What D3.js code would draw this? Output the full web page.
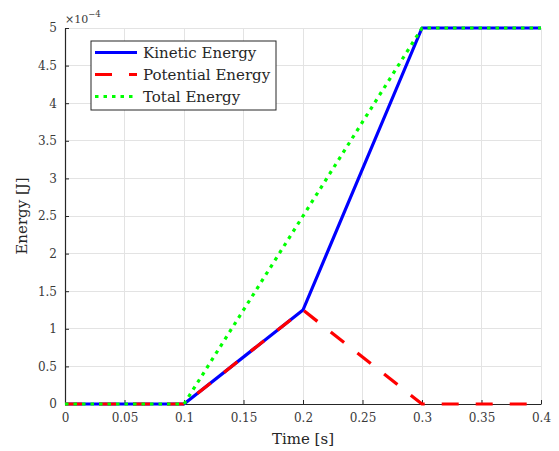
<!DOCTYPE html>
<html>
<head>
<meta charset="utf-8">
<script src="https://cdn.jsdelivr.net/npm/d3@7"></script>
<style>
  body { margin: 0; background: #fff; }
  svg { display: block; }
  svg text { font-family: "DejaVu Serif", "Liberation Serif", serif; }
</style>
</head>
<body>
<svg id="chart" width="559" height="451"></svg>
<script>
// Energy of the body over time (values in units of 1e-4 J)
const time = [0, 0.1, 0.2, 0.3, 0.4];
const kinetic = [0, 0, 1.25, 5, 5];
const potential = [0, 0, 1.25, 0, 0];
const total = [0, 0, 2.5, 5, 5];

const xTicks = [0, 0.05, 0.1, 0.15, 0.2, 0.25, 0.3, 0.35, 0.4];
const yTicks = [0, 0.5, 1, 1.5, 2, 2.5, 3, 3.5, 4, 4.5, 5];

const series = [
  { name: "Kinetic Energy", values: kinetic, color: "#0000ff", dash: null },
  { name: "Potential Energy", values: potential, color: "#ff0000", dash: "17,17" },
  { name: "Total Energy", values: total, color: "#00ff00", dash: "3.5,5" }
];

const svg = d3.select("#chart");
const m = { left: 65, right: 18, top: 28, bottom: 47 };
const W = 559, H = 451;

const x = d3.scaleLinear().domain([0, 0.4]).range([m.left, W - m.right]);
const y = d3.scaleLinear().domain([0, 5]).range([H - m.bottom, m.top]);

// grid
const grid = svg.append("g");
grid.selectAll(".gx").data(xTicks).join("line")
  .attr("x1", d => x(d)).attr("x2", d => x(d))
  .attr("y1", y(0)).attr("y2", y(5))
  .attr("stroke", "#e3e3e3").attr("stroke-width", 1).attr("shape-rendering", "crispEdges");
grid.selectAll(".gy").data(yTicks).join("line")
  .attr("x1", x(0)).attr("x2", x(0.4))
  .attr("y1", d => y(d)).attr("y2", d => y(d))
  .attr("stroke", "#e3e3e3").attr("stroke-width", 1).attr("shape-rendering", "crispEdges");

// axes
const axColor = "#262626";
const xAxis = svg.append("g").attr("transform", `translate(0,${y(0)})`)
  .call(d3.axisBottom(x).tickValues(xTicks).tickSizeInner(-4).tickSizeOuter(0).tickPadding(9)
    .tickFormat(d => d3.format("")(+d.toFixed(2))));
const yAxis = svg.append("g").attr("transform", `translate(${x(0)},0)`)
  .call(d3.axisLeft(y).tickValues(yTicks).tickSizeInner(-4).tickSizeOuter(0).tickPadding(8)
    .tickFormat(d => d3.format("")(d)));
[xAxis, yAxis].forEach(a => {
  a.attr("font-family", null).attr("font-size", null);
  a.select(".domain").attr("stroke", axColor).attr("stroke-width", 1.2);
  a.selectAll(".tick line").attr("stroke", axColor);
  a.selectAll(".tick text").attr("fill", "#3a3a3a").style("font-size", "12px");
});

// exponent label
const expo = svg.append("text").attr("x", 65).attr("y", 22.5).attr("fill", "#3a3a3a")
  .style("font-size", "11px");
expo.append("tspan").text("×10");
expo.append("tspan").attr("dy", -6).style("font-size", "8.5px").text("−4");

// axis titles
svg.append("text").attr("x", (x(0) + x(0.4)) / 2).attr("y", 443.5)
  .attr("text-anchor", "middle").style("font-size", "15px").attr("fill", axColor).text("Time [s]");
svg.append("text").attr("transform", `translate(27,${(y(0) + y(5)) / 2}) rotate(-90)`)
  .attr("text-anchor", "middle").style("font-size", "15px").attr("fill", axColor).text("Energy [J]");

// lines
const line = d3.line().x((d, i) => x(time[i])).y(d => y(d));
series.forEach(s => {
  svg.append("path").datum(s.values)
    .attr("d", line)
    .attr("fill", "none")
    .attr("stroke", s.color)
    .attr("stroke-width", 3.2)
    .attr("stroke-linejoin", "round")
    .attr("stroke-dasharray", s.dash);
});

// legend
const lg = svg.append("g").attr("transform", "translate(91,41)");
lg.append("rect").attr("width", 185).attr("height", 69)
  .attr("fill", "#fff").attr("stroke", axColor).attr("stroke-width", 1);
series.forEach((s, i) => {
  const yy = 11.5 + i * 22;
  lg.append("line").attr("x1", 4).attr("x2", 46).attr("y1", yy).attr("y2", yy)
    .attr("stroke", s.color).attr("stroke-width", 3.2).attr("stroke-dasharray", s.dash);
  lg.append("text").attr("x", 52).attr("y", yy + 5.5).style("font-size", "15px")
    .attr("fill", axColor).text(s.name);
});
</script>
</body>
</html>
